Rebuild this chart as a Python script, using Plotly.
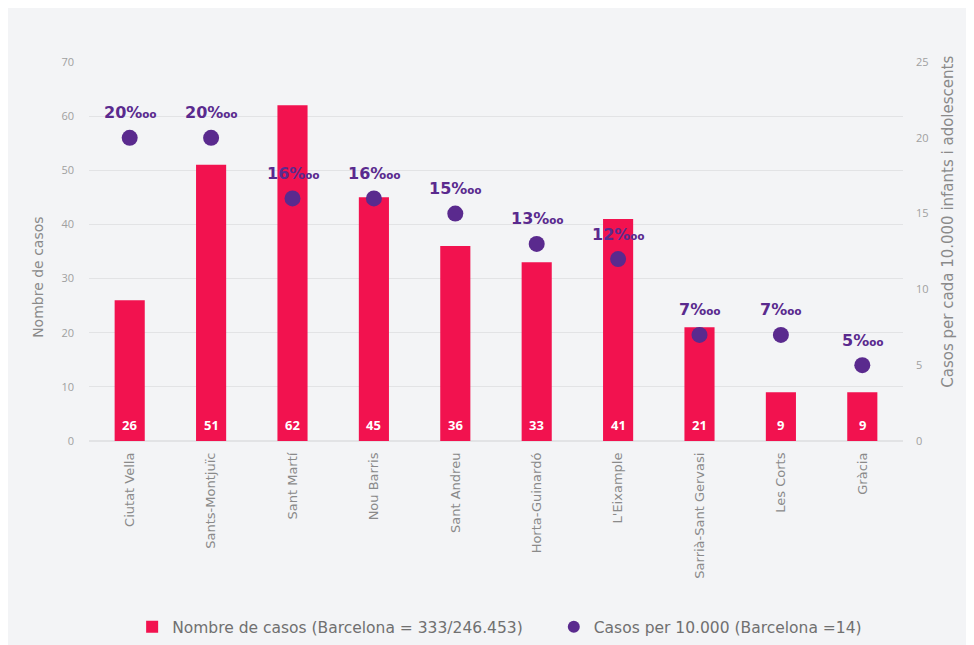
import plotly.graph_objects as go

districts = ["Ciutat Vella", "Sants-Montjuïc", "Sant Martí", "Nou Barris", "Sant Andreu",
             "Horta-Guinardó", "L'Eixample", "Sarrià-Sant Gervasi", "Les Corts", "Gràcia"]
cases = [26, 51, 62, 45, 36, 33, 41, 21, 9, 9]
rate = [20, 20, 16, 16, 15, 13, 12, 7, 7, 5]
left_ticks = [0, 10, 20, 30, 40, 50, 60, 70]
right_ticks = [0, 5, 10, 15, 20, 25]

BAR = "#f2124f"
DOT = "#5a2a8e"
GRAY = "#8a8a8a"

fig = go.Figure()
fig.add_trace(go.Bar(
    x=districts, y=cases, name="Nombre de casos (Barcelona = 333/246.453)",
    marker=dict(color=BAR, line=dict(width=0)), width=0.37, legend="legend",
))
fig.add_trace(go.Scatter(
    x=districts, y=rate, yaxis="y2", mode="markers",
    name="Casos per 10.000 (Barcelona =14)",
    marker=dict(color=DOT, size=16), legend="legend2",
))
# bar value labels at the base of each bar
for d, c in zip(districts, cases):
    fig.add_annotation(x=d, y=0, xref="x", yref="y", text=str(c), showarrow=False,
                       yanchor="middle", yshift=16,
                       font=dict(color="white", size=13, family="Open Sans", weight="bold"))
# rate labels above dots
for d, r in zip(districts, rate):
    fig.add_annotation(x=d, y=r, xref="x", yref="y2", text=f"{r}‱", showarrow=False,
                       yshift=25, font=dict(color=DOT, size=16, family="DejaVu Sans", weight="bold"))

# axis titles
fig.add_annotation(x=-0.0627, y=0.433, xref="paper", yref="paper", text="Nombre de casos",
                   xanchor="center", yanchor="middle", textangle=-90, showarrow=False,
                   font=dict(size=14, color=GRAY, family="DejaVu Sans"))
fig.add_annotation(x=1.055, y=0.578, xref="paper", yref="paper",
                   text="Casos per cada 10.000 infants i adolescents",
                   xanchor="center", yanchor="middle", textangle=-90, showarrow=False,
                   font=dict(size=15, color=GRAY, family="DejaVu Sans"))

legend_font = dict(size=15.5, color="#707070", family="DejaVu Sans")
fig.update_layout(
    width=974, height=645,
    margin=dict(l=81, r=79, t=54, b=212, autoexpand=False),
    paper_bgcolor="#f3f4f6", plot_bgcolor="rgba(0,0,0,0)",
    font=dict(family="Open Sans", color=GRAY),
    showlegend=True,
    legend=dict(orientation="h", x=0.053, xanchor="left", y=-0.491, yanchor="middle",
                font=legend_font, bgcolor="rgba(0,0,0,0)"),
    legend2=dict(orientation="h", x=0.571, xanchor="left", y=-0.491, yanchor="middle",
                 font=legend_font, bgcolor="rgba(0,0,0,0)", itemsizing="constant"),
    xaxis=dict(range=[-0.5, 9.5], tickangle=-90,
               tickfont=dict(size=13, color=GRAY, family="DejaVu Sans"),
               showgrid=False, showline=False, ticks="", ticklabelstandoff=8,
               automargin=False),
    yaxis=dict(range=[0, 70], tickvals=left_ticks, tickfont=dict(size=11, color="#a0a0a0"),
               gridcolor="#e2e3e5", gridwidth=1, zeroline=True, zerolinecolor="#e2e3e5",
               ticks="", ticklabelstandoff=14, automargin=False),
    yaxis2=dict(range=[0, 25], tickvals=right_ticks, overlaying="y", side="right",
                showgrid=False, zeroline=False, tickfont=dict(size=11, color="#a0a0a0"),
                ticks="", ticklabelstandoff=12, automargin=False),
)

fig.write_html("out.html")
